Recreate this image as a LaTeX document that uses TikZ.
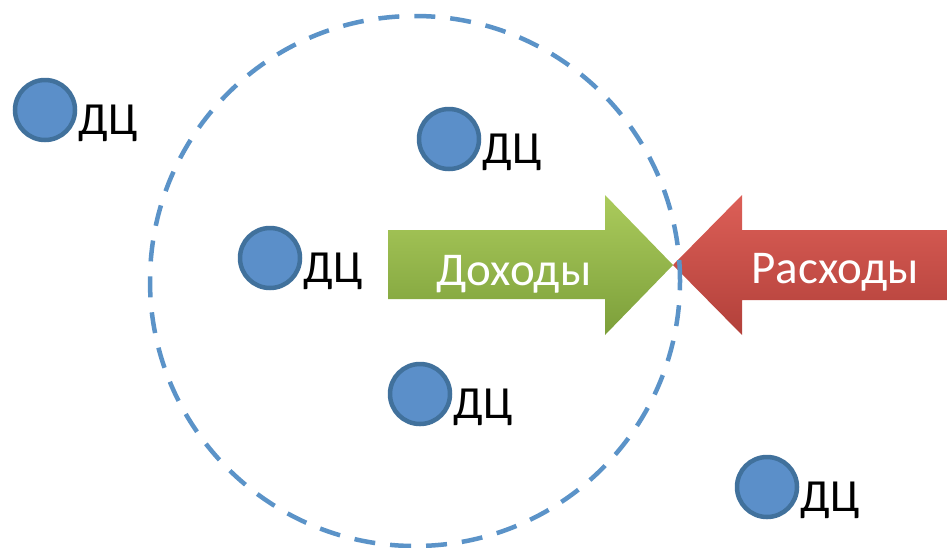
\documentclass[tikz,border=0pt]{standalone}
\usepackage{fontspec}
\setmainfont{Carlito}
\definecolor{dotfill}{HTML}{5B8FC9}
\definecolor{dotline}{HTML}{41719C}
\definecolor{ringcol}{HTML}{5B93C8}
\definecolor{gtop}{HTML}{ABCB5C}
\definecolor{gbot}{HTML}{7C9F3A}
\definecolor{rtop}{HTML}{DC5F57}
\definecolor{rbot}{HTML}{B2403A}
\tikzset{
  dot/.style={circle, fill=dotfill, draw=dotline, line width=4.5pt, minimum size=60pt, inner sep=0pt},
  lbl/.style={anchor=base west, inner sep=0pt, font=\fontsize{46}{52}\selectfont},
  ring/.style={circle, draw=ringcol, line width=4.5pt, dash pattern=on 21pt off 15pt, minimum size=530pt, inner sep=0pt},
  arrtext/.style={text=white, inner sep=0pt, anchor=base, font=\fontsize{47}{54}\selectfont}
}
\begin{document}
\begin{tikzpicture}[x=1pt,y=-1pt]
\useasboundingbox (0,0) rectangle (947,547);
\clip (0,0) rectangle (947,547);
% arrows
\shade[top color=gtop, bottom color=gbot] (388,230) -- (605,230) -- (605,195) -- (673,265) -- (605,335) -- (605,299) -- (388,299) -- cycle;
\shade[top color=rtop, bottom color=rbot] (673,265) -- (742,195) -- (742,230) -- (950,230) -- (950,300) -- (742,300) -- (742,335) -- cycle;
\node[arrtext] (inc) at (514,285) {Доходы};
\node[arrtext] (exp) at (835,283) {Расходы};
% dots
\node[dot] (d1) at (45,110) {};
\node[dot] (d2) at (449,139) {};
\node[dot] (d3) at (270,258) {};
\node[dot] (d4) at (420,394) {};
\node[dot] (d5) at (767,487) {};
\node[lbl] (l1) at ([xshift=1pt,yshift=-24pt]d1.east) {ДЦ};
\node[lbl] (l2) at ([xshift=1pt,yshift=-24pt]d2.east) {ДЦ};
\node[lbl] (l3) at ([xshift=1pt,yshift=-24pt]d3.east) {ДЦ};
\node[lbl] (l4) at ([xshift=1pt,yshift=-24pt]d4.east) {ДЦ};
\node[lbl] (l5) at ([xshift=1pt,yshift=-24pt]d5.east) {ДЦ};
% ring
\node[ring] (r) at (415,281) {};
\end{tikzpicture}
\end{document}
